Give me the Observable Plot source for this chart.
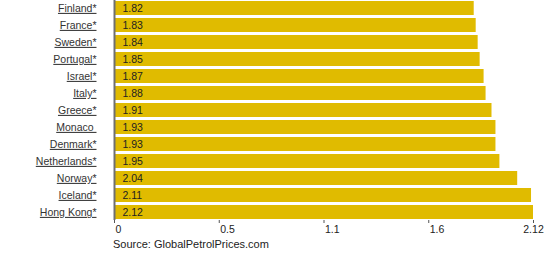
<!DOCTYPE html>
<html>
<head>
<meta charset="utf-8">
<script src="https://cdn.jsdelivr.net/npm/d3@7"></script>
<script src="https://cdn.jsdelivr.net/npm/@observablehq/plot@0.6"></script>
<style>
  html, body { margin: 0; padding: 0; background: #fff; }
  #chart { width: 558px; }
  .source { font: 11px "Liberation Sans", Arial, sans-serif; color: #222; margin-left: 113px; margin-top: 0px; line-height: 13px; }
</style>
</head>
<body>
<div id="chart"></div>
<script>
const countries = ["Finland*", "France*", "Sweden*", "Portugal*", "Israel*", "Italy*", "Greece*", "Monaco\u00a0", "Denmark*", "Netherlands*", "Norway*", "Iceland*", "Hong Kong*"];
const prices = [1.82, 1.83, 1.84, 1.85, 1.87, 1.88, 1.91, 1.93, 1.93, 1.95, 2.04, 2.11, 2.12];
const tickValues = [0, 0.53, 1.06, 1.59, 2.12];
const tickLabels = ["0", "0.5", "1.1", "1.6", "2.12"];
const sourceText = "Source: GlobalPetrolPrices.com";

const data = countries.map((c, i) => ({country: c, price: prices[i], label: prices[i].toFixed(2)}));
const ticks = tickValues.map((v, i) => ({v, label: tickLabels[i], last: i === tickValues.length - 1}));

const font = '"Liberation Sans", Arial, sans-serif';
const chart = Plot.plot({
  width: 558,
  height: 238,
  marginLeft: 114,
  marginRight: 25,
  marginTop: 0,
  marginBottom: 18,
  style: {fontFamily: font, fontSize: "10.5px", color: "#333", background: "#fff"},
  x: {domain: [0, 2.12], axis: null},
  y: {domain: countries, paddingInner: 0.18, paddingOuter: 0.05, axis: null},
  marks: [
    Plot.barX(data, {y: "country", x: "price", fill: "#e0bb00"}),
    Plot.text(data, {y: "country", x: 0, text: "label", textAnchor: "start", dx: 8, fill: "#222", fontSize: 10.5}),
    Plot.text(data, {y: "country", x: 0, text: "country", textAnchor: "end", dx: -18, fill: "#333", fontSize: 10.5}),
    Plot.ruleX([0], {stroke: "#6f6f6f", strokeWidth: 2}),
    Plot.ruleY([0], {frameAnchor: "bottom", stroke: "#8a8a8a", strokeWidth: 1.5}),
    Plot.axisX({ticks: tickValues, tickFormat: () => "", tickSize: 3, stroke: "#555", label: null}),
    Plot.text(ticks.filter(d => !d.last), {x: "v", text: "label", frameAnchor: "bottom", textAnchor: "start", dx: 1, dy: 12, fill: "#222", fontSize: 10.5}),
    Plot.text(ticks.filter(d => d.last), {x: "v", text: "label", frameAnchor: "bottom", textAnchor: "middle", dy: 12, fill: "#222", fontSize: 10.5})
  ]
});
document.getElementById("chart").appendChild(chart);
const countrySet = new Set(countries);
d3.select(chart).selectAll("text").filter(function() { return countrySet.has(this.textContent); })
  .style("text-decoration", "underline");
const src = document.createElement("div");
src.className = "source";
src.textContent = sourceText;
document.getElementById("chart").appendChild(src);
</script>
</body>
</html>
